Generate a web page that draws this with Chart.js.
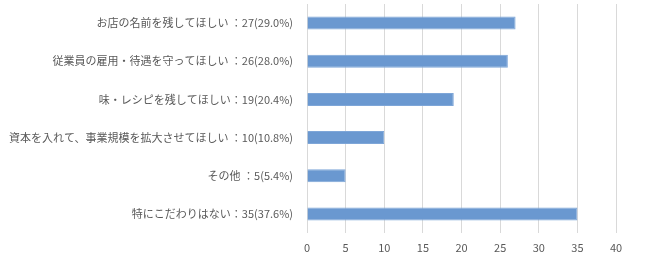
<!DOCTYPE html>
<html>
<head>
<meta charset="utf-8">
<script src="https://cdn.jsdelivr.net/npm/chart.js@4"></script>
<style>
  html, body { margin: 0; padding: 0; background: #fff; }
  #wrap { width: 650px; height: 266px; }
</style>
</head>
<body>
<div id="wrap"><canvas id="myChart"></canvas></div>
<script>
// answers, counts and share (%)
const answers = ['お店の名前を残してほしい ', '従業員の雇用・待遇を守ってほしい ', '味・レシピを残してほしい', '資本を入れて、事業規模を拡大させてほしい ', 'その他 ', '特にこだわりはない'];
const counts = [27, 26, 19, 10, 5, 35];
const shares = ['29.0', '28.0', '20.4', '10.8', '5.4', '37.6'];
const xTicks = [0, 5, 10, 15, 20, 25, 30, 35, 40];

const labels = answers.map((a, i) => a + '：' + counts[i] + '(' + shares[i] + '%)');
const font = "'Noto Sans CJK JP', 'Noto Sans', sans-serif";

new Chart(document.getElementById('myChart'), {
    type: 'bar',
    data: {
        labels: labels,
        datasets: [{
            data: counts,
            backgroundColor: '#6a98d0',
            borderColor: '#7ea6d8',
            borderWidth: 1,
            barPercentage: 0.68,
            categoryPercentage: 0.5
        }]
    },
    options: {
        indexAxis: 'y',
        responsive: true,
        maintainAspectRatio: false,
        animation: false,
        layout: { padding: { top: 4, right: 34, bottom: 0, left: 0 } },
        plugins: { legend: { display: false }, tooltip: { enabled: false } },
        scales: {
            x: {
                min: xTicks[0],
                max: xTicks[xTicks.length - 1],
                afterBuildTicks: (s) => { s.ticks = xTicks.map(v => ({ value: v })); },
                afterFit: (s) => { s.height = 33; s.paddingLeft = 0; s.paddingRight = 0; },
                grid: { color: '#d9d9d9', lineWidth: 1, drawTicks: false },
                border: { display: false },
                ticks: { color: '#595959', font: { family: font, size: 11 }, padding: 8 }
            },
            y: {
                afterFit: (s) => { s.width = 307; s.paddingTop = 0; s.paddingBottom = 0; },
                grid: { display: false, drawTicks: false },
                border: { display: false },
                ticks: { color: '#595959', font: { family: font, size: 11 }, padding: 14 }
            }
        }
    }
});
</script>
</body>
</html>
